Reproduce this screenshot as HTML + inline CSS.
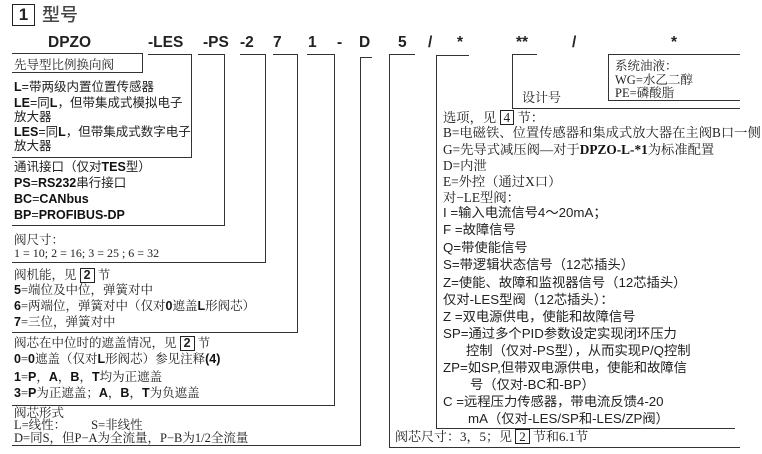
<!DOCTYPE html>
<html><head><meta charset="utf-8"><style>
body{margin:0;width:762px;height:454px;background:#fff;position:relative;overflow:hidden;font-family:"Liberation Serif","Noto Serif CJK SC",serif;color:#222}
.t{position:absolute;white-space:nowrap;line-height:16px;height:16px;font-size:12.5px}
.s{font-family:"Liberation Sans","Noto Sans CJK SC",sans-serif}
.h{position:absolute;font-family:"Liberation Sans",sans-serif;font-weight:bold;font-size:15.5px;top:33px;line-height:20px}
.l{position:absolute;background:#333}
b{font-family:"Liberation Sans",sans-serif;font-weight:bold;color:#111}
.bx{display:inline-block;border:1.3px solid #222;padding:0 3px;line-height:13px;font-family:"Liberation Sans",sans-serif;font-weight:bold}
.r{font-size:13.3px}
</style></head><body>
<div style="position:absolute;left:12px;top:4px;width:21px;height:20px;border:1.5px solid #222;font:bold 17px/20px 'Liberation Sans',sans-serif;text-align:center">1</div>
<div style="position:absolute;left:42px;top:2px;font:500 18px/24px 'Noto Sans CJK SC',sans-serif;color:#444">型号</div>

<div class="h" style="left:48px">DPZO</div>
<div class="h" style="left:148px">-LES</div>
<div class="h" style="left:203px">-PS</div>
<div class="h" style="left:240px">-2</div>
<div class="h" style="left:273px">7</div>
<div class="h" style="left:308px">1</div>
<div class="h" style="left:337px">-</div>
<div class="h" style="left:359px">D</div>
<div class="h" style="left:398px">5</div>
<div class="h" style="left:428px">/</div>
<div class="h" style="left:457px">*</div>
<div class="h" style="left:516px">**</div>
<div class="h" style="left:572px">/</div>
<div class="h" style="left:671px">*</div>

<div class="l" style="left:12px;top:53px;width:130px;height:1px"></div>
<div class="l" style="left:142px;top:53px;width:1px;height:19px"></div>
<div class="l" style="left:12px;top:72px;width:131px;height:1px"></div>
<div class="l" style="left:148px;top:54px;width:44px;height:1px"></div>
<div class="l" style="left:191px;top:54px;width:1px;height:104px"></div>
<div class="l" style="left:12px;top:157px;width:180px;height:1px"></div>
<div class="l" style="left:198px;top:54px;width:26px;height:1px"></div>
<div class="l" style="left:224px;top:54px;width:1px;height:172px"></div>
<div class="l" style="left:12px;top:225px;width:213px;height:1px"></div>
<div class="l" style="left:240px;top:54px;width:25px;height:1px"></div>
<div class="l" style="left:265px;top:54px;width:1px;height:209px"></div>
<div class="l" style="left:12px;top:262px;width:254px;height:1px"></div>
<div class="l" style="left:273px;top:54px;width:24px;height:1px"></div>
<div class="l" style="left:297px;top:54px;width:1px;height:279px"></div>
<div class="l" style="left:12px;top:332px;width:286px;height:1px"></div>
<div class="l" style="left:307px;top:54px;width:27px;height:1px"></div>
<div class="l" style="left:334px;top:54px;width:1px;height:352px"></div>
<div class="l" style="left:12px;top:405px;width:323px;height:1px"></div>
<div class="l" style="left:360px;top:57px;width:12px;height:1px"></div>
<div class="l" style="left:360px;top:57px;width:1px;height:389px"></div>
<div class="l" style="left:12px;top:445px;width:349px;height:1px"></div>
<div class="l" style="left:389px;top:54px;width:26px;height:1px"></div>
<div class="l" style="left:389px;top:54px;width:1px;height:393px"></div>
<div class="l" style="left:389px;top:447px;width:351px;height:1px"></div>
<div class="l" style="left:436px;top:55px;width:33px;height:1px"></div>
<div class="l" style="left:436px;top:55px;width:1px;height:373px"></div>
<div class="l" style="left:436px;top:428px;width:299px;height:1px"></div>
<div class="l" style="left:512px;top:54px;width:25px;height:1px"></div>
<div class="l" style="left:512px;top:54px;width:1px;height:54px"></div>
<div class="l" style="left:512px;top:108px;width:228px;height:1px"></div>
<div class="l" style="left:608px;top:54px;width:132px;height:1px"></div>
<div class="l" style="left:608px;top:54px;width:1px;height:46px"></div>
<div class="l" style="left:608px;top:100px;width:132px;height:1px"></div>

<div class="t" style="left:14px;top:57px">先导型比例换向阀</div>
<div class="t s" style="left:14px;top:79px"><b>L</b>=带两级内置位置传感器</div>
<div class="t s" style="left:14px;top:95px"><b>LE</b>=同<b>L</b>，但带集成式模拟电子</div>
<div class="t s" style="left:14px;top:109px">放大器</div>
<div class="t s" style="left:14px;top:124px"><b>LES</b>=同<b>L</b>，但带集成式数字电子</div>
<div class="t s" style="left:14px;top:138px">放大器</div>
<div class="t s" style="left:14px;top:159px">通讯接口（仅对<b>TES</b>型）</div>
<div class="t s" style="left:14px;top:175px"><b>PS</b>=<b>RS232</b>串行接口</div>
<div class="t s" style="left:14px;top:191px"><b>BC</b>=<b>CANbus</b></div>
<div class="t s" style="left:14px;top:207px"><b>BP</b>=<b>PROFIBUS-DP</b></div>
<div class="t" style="left:14px;top:232px">阀尺寸：</div>
<div class="t" style="left:14px;top:245px;font-size:12px">1 = 10; 2 = 16; 3 = 25 ; 6 = 32</div>
<div class="t" style="left:14px;top:267px">阀机能，见 <span class="bx">2</span> 节</div>
<div class="t" style="left:14px;top:282px"><b>5</b>=端位及中位，弹簧对中</div>
<div class="t" style="left:14px;top:298px"><b>6</b>=两端位，弹簧对中（仅对<b>0</b>遮盖<b>L</b>形阀芯）</div>
<div class="t" style="left:14px;top:314px"><b>7</b>=三位，弹簧对中</div>
<div class="t" style="left:14px;top:335px">阀芯在中位时的遮盖情况，见 <span class="bx">2</span> 节</div>
<div class="t" style="left:14px;top:351px"><b>0</b>=<b>0</b>遮盖（仅对<b>L</b>形阀芯）参见注释<b>(4)</b></div>
<div class="t" style="left:14px;top:369px"><b>1</b>=<b>P</b>，<b>A</b>，<b>B</b>，<b>T</b>均为正遮盖</div>
<div class="t" style="left:14px;top:385px"><b>3</b>=<b>P</b>为正遮盖；<b>A</b>，<b>B</b>，<b>T</b>为负遮盖</div>
<div class="t" style="left:14px;top:405px">阀芯形式</div>
<div class="t" style="left:14px;top:417px">L=线性：&nbsp;&nbsp;&nbsp;&nbsp;&nbsp;&nbsp;&nbsp; S=非线性</div>
<div class="t" style="left:14px;top:430px">D=同S，但P−A为全流量，P−B为1/2全流量</div>

<div class="t" style="left:615px;top:58px">系统油液：</div>
<div class="t" style="left:615px;top:72px">WG=水乙二醇</div>
<div class="t" style="left:615px;top:85px">PE=磷酸脂</div>
<div class="t" style="left:522px;top:90px;font-size:13px">设计号</div>

<div class="t r" style="left:443px;top:110px">选项，见 <span class="bx" style="font-weight:normal;font-family:'Liberation Serif',serif">4</span> 节：</div>
<div class="t r" style="left:443px;top:125px">B=电磁铁、位置传感器和集成式放大器在主阀B口一侧</div>
<div class="t r" style="left:443px;top:142px">G=先导式减压阀—对于<b style="font-family:'Liberation Serif',serif">DPZO-L-*1</b>为标准配置</div>
<div class="t r" style="left:443px;top:158px">D=内泄</div>
<div class="t r" style="left:443px;top:174px">E=外控（通过X口）</div>
<div class="t r" style="left:443px;top:190px">对−LE型阀：</div>
<div class="t r s" style="left:443px;top:205px">I =输入电流信号4～20mA；</div>
<div class="t r s" style="left:443px;top:222px">F =故障信号</div>
<div class="t r s" style="left:443px;top:240px">Q=带使能信号</div>
<div class="t r s" style="left:443px;top:257px">S=带逻辑状态信号（12芯插头）</div>
<div class="t r s" style="left:443px;top:275px">Z=使能、故障和监视器信号（12芯插头）</div>
<div class="t r s" style="left:443px;top:292px">仅对-LES型阀（12芯插头）：</div>
<div class="t r s" style="left:443px;top:309px">Z =双电源供电，使能和故障信号</div>
<div class="t r s" style="left:443px;top:326px">SP=通过多个PID参数设定实现闭环压力</div>
<div class="t r s" style="left:466px;top:343px">控制（仅对-PS型），从而实现P/Q控制</div>
<div class="t r s" style="left:443px;top:360px">ZP=如SP,但带双电源供电，使能和故障信</div>
<div class="t r s" style="left:470px;top:377px">号（仅对-BC和-BP）</div>
<div class="t r s" style="left:443px;top:394px">C =远程压力传感器，带电流反馈4-20</div>
<div class="t r s" style="left:468px;top:411px">mA（仅对-LES/SP和-LES/ZP阀）</div>
<div class="t" style="left:395px;top:429px;font-size:13px">阀芯尺寸：3，5；见 <span class="bx" style="font-weight:normal;font-family:'Liberation Serif',serif">2</span> 节和6.1节</div>
</body></html>
